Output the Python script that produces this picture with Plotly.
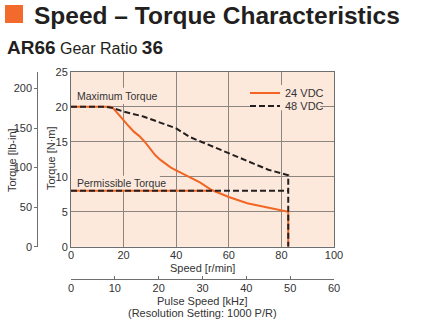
import plotly.graph_objects as go

# ---------------- data ----------------
speed_24 = [0, 15, 16, 18, 20, 22, 24, 26, 28, 30, 32, 34, 36, 38, 40, 44, 49, 53.5, 60, 67, 75, 82.6, 82.6]
torque_24 = [20, 20, 19.8, 18.9, 18.1, 17.2, 16.4, 15.8, 15.0, 14.0, 13.1, 12.4, 11.8, 11.3, 10.9, 10.1, 9.2, 8.1, 7.1, 6.2, 5.6, 5.0, 0]

speed_48 = [0, 13, 16, 20, 27.5, 35, 40, 45, 50, 55, 60, 67.5, 75, 82.6, 82.6]
torque_48 = [20, 20, 19.8, 19.3, 18.6, 17.6, 16.9, 15.7, 14.9, 14.2, 13.3, 12.1, 11.0, 10.2, 0]

permissible_torque = 8
perm_speed_24 = [0, 53.5]
perm_speed_48 = [0, 82.6]

speed_ticks = [0, 20, 40, 60, 80, 100]
torque_ticks = [0, 5, 10, 15, 20, 25]
lbin_ticks = [0, 50, 100, 150, 200]
pulse_ticks = [0, 10, 20, 30, 40, 50, 60]

SPEED_MAX = 100
TORQUE_MAX = 25
PULSE_MAX = 60
NM_TO_LBIN = 8.851

# ---------------- style ----------------
W, H = 425, 325
ORANGE = "#f26522"
BLACK = "#231f20"
PEACH = "#fde9dc"
GRID = "#8c8580"
BORDER = "#6e6e6e"
TXT = "#333333"
NARROW = "Liberation Sans Narrow, Arial Narrow, Liberation Sans, Arial, sans-serif"
SANS = "Liberation Sans, Arial, sans-serif"


def px_x(p):
    return p / W


def px_y(p):
    return 1 - p / H


x24 = speed_24 + [None] + perm_speed_24
y24 = torque_24 + [None] + [permissible_torque] * len(perm_speed_24)
x48 = speed_48 + [None] + perm_speed_48
y48 = torque_48 + [None] + [permissible_torque] * len(perm_speed_48)

fig = go.Figure()
fig.add_trace(go.Scatter(x=x24, y=y24, name="24 VDC", mode="lines",
                         line=dict(color=ORANGE, width=2), legend="legend",
                         hoverinfo="skip"))
fig.add_trace(go.Scatter(x=x48, y=y48, name="48 VDC", mode="lines",
                         line=dict(color=BLACK, width=2, dash="6px,3px"),
                         legend="legend2", hoverinfo="skip"))
# carrier for the secondary scales (pulse speed / lb-in)
fig.add_trace(go.Scatter(x=[0, PULSE_MAX], y=[0, TORQUE_MAX * NM_TO_LBIN],
                         xaxis="x2", yaxis="y2", mode="lines",
                         line=dict(width=0, color="rgba(0,0,0,0)"),
                         showlegend=False, hoverinfo="skip"))

x_dom = [px_x(71), px_x(334)]
y_dom = [px_y(246.7), px_y(71.7)]

axis_common = dict(showgrid=True, gridcolor=GRID, gridwidth=1, zeroline=False,
                   showline=True, linecolor=BORDER, linewidth=1, mirror=True,
                   ticks="", tickfont=dict(family=NARROW, size=11, color=TXT),
                   automargin=False, fixedrange=True)

fig.update_layout(
    template="none",
    width=W, height=H,
    margin=dict(l=0, r=0, t=0, b=0),
    paper_bgcolor="white",
    plot_bgcolor=PEACH,
    xaxis=dict(domain=x_dom, range=[0, SPEED_MAX], tickvals=speed_ticks,
               anchor="y", ticklabelstandoff=-2, **axis_common),
    yaxis=dict(domain=y_dom, range=[0, TORQUE_MAX], tickvals=torque_ticks,
               anchor="x", **axis_common),
    xaxis2=dict(overlaying="x", anchor="free", position=px_y(279.3), side="bottom",
                range=[0, PULSE_MAX], tickvals=pulse_ticks, showgrid=False,
                zeroline=False, showline=True, linecolor=BORDER, linewidth=1,
                ticks="inside", ticklen=3, tickcolor=BORDER, ticklabelstandoff=-2,
                tickfont=dict(family=NARROW, size=11, color=TXT),
                automargin=False, fixedrange=True),
    yaxis2=dict(overlaying="y", anchor="free", position=px_x(37.3), side="left",
                range=[0, TORQUE_MAX * NM_TO_LBIN], tickvals=lbin_ticks,
                showgrid=False, zeroline=False, showline=True, linecolor=BORDER,
                linewidth=1, ticks="outside", ticklen=3, tickcolor=BORDER,
                tickfont=dict(family=NARROW, size=11, color=TXT),
                automargin=False, fixedrange=True),
    legend=dict(x=px_x(245), y=px_y(93), xanchor="left", yanchor="middle",
                bgcolor="rgba(0,0,0,0)", borderwidth=0,
                font=dict(family=NARROW, size=11, color=TXT)),
    legend2=dict(x=px_x(245), y=px_y(106), xanchor="left", yanchor="middle",
                 bgcolor="rgba(0,0,0,0)", borderwidth=0,
                 font=dict(family=NARROW, size=11, color=TXT)),
    showlegend=True,
)

# title square
fig.add_shape(type="rect", xref="paper", yref="paper",
              x0=px_x(5), x1=px_x(23), y0=px_y(23), y1=px_y(5),
              fillcolor="#f26a2c", line=dict(width=0))
# label / legend backgrounds hiding gridlines
for (a, b, c, d) in [(0, 27, 20.4, 22.7), (0, 33.8, 8.15, 10.15), (70.3, 94.7, 19.5, 23.1)]:
    fig.add_shape(type="rect", xref="x", yref="y", x0=a, x1=b, y0=c, y1=d,
                  fillcolor=PEACH, line=dict(width=0), layer="between")

ann = []
ann.append(dict(text="<b>Speed – Torque Characteristics</b>", xref="paper", yref="paper",
                x=px_x(32), y=px_y(15.5), xanchor="left", yanchor="middle",
                font=dict(family=SANS, size=24.5, color=BLACK)))
ann.append(dict(text="<b><span style='font-size:19px'>AR66</span></b> Gear Ratio "
                     "<b><span style='font-size:19px'>36</span></b>",
                xref="paper", yref="paper", x=px_x(5), y=px_y(47.5),
                xanchor="left", yanchor="middle",
                font=dict(family=SANS, size=16, color=BLACK)))
ann.append(dict(text="Maximum Torque", xref="x", yref="y", x=1.5, y=21.5,
                xanchor="left", yanchor="middle",
                font=dict(family=NARROW, size=10.5, color=TXT)))
ann.append(dict(text="Permissible Torque", xref="x", yref="y", x=1.5, y=9.14,
                xanchor="left", yanchor="middle",
                font=dict(family=NARROW, size=10.5, color=TXT)))
for txt, x, y, ang in [("Speed [r/min]", 202.5, 268, 0),
                       ("Pulse Speed [kHz]", 202.5, 301, 0),
                       ("(Resolution Setting: 1000 P/R)", 202.5, 313, 0),
                       ("Torque [N·m]", 51, 158, -90),
                       ("Torque [lb-in]", 12, 160, -90)]:
    ann.append(dict(text=txt, xref="paper", yref="paper", x=px_x(x), y=px_y(y),
                    xanchor="center", yanchor="middle", textangle=ang,
                    font=dict(family=NARROW, size=11, color=TXT)))
for a in ann:
    a["showarrow"] = False
fig.update_layout(annotations=ann)

fig.write_html("out.html")
